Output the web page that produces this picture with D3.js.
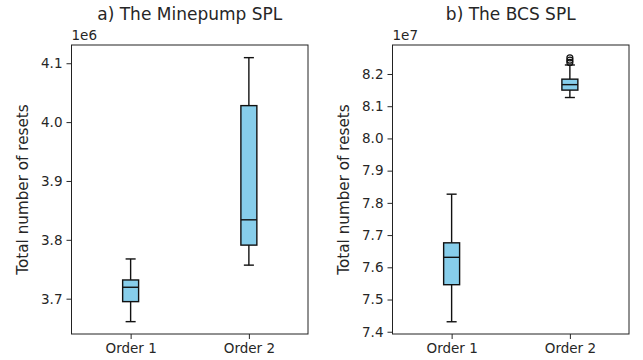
<!DOCTYPE html>
<html>
<head>
<meta charset="utf-8">
<script src="https://cdn.jsdelivr.net/npm/d3@7"></script>
<style>
  body { margin: 0; background: #fff; }
  svg { display: block; }
  text { font-family: "DejaVu Sans", sans-serif; fill: #262626; }
</style>
</head>
<body>
<script>
// box stats
let categories = ['Order 1', 'Order 2']

let minepumpLow = [3.661e6, 3.757e6]
let minepumpQ1 = [3.695e6, 3.791e6]
let minepumpMed = [3.7194e6, 3.834e6]
let minepumpQ3 = [3.7318e6, 4.028e6]
let minepumpHigh = [3.7675e6, 4.1095e6]
let minepumpOutliers = [[], []]
let minepumpTicks = [3.7e6, 3.8e6, 3.9e6, 4.0e6, 4.1e6]

let bcsLow = [7.431e7, 8.127e7]
let bcsQ1 = [7.546e7, 8.150e7]
let bcsMed = [7.631e7, 8.167e7]
let bcsQ3 = [7.676e7, 8.184e7]
let bcsHigh = [7.827e7, 8.228e7]
let bcsOutliers = [[], [8.236e7, 8.243e7, 8.250e7]]
let bcsTicks = [7.4e7, 7.5e7, 7.6e7, 7.7e7, 7.8e7, 7.9e7, 8.0e7, 8.1e7, 8.2e7]

let svgWidth = 643, svgHeight = 360

let svg = d3.select('body').append('svg')
    .attr('width', svgWidth)
    .attr('height', svgHeight)

function drawPanel(opts) {
    let w = opts.right - opts.left
    let h = opts.bottom - opts.top

    let g = svg.append('g')
        .attr('transform', 'translate(' + opts.left + ',' + opts.top + ')')

    let xScale = d3.scaleLinear().domain([0.5, 2.5]).range([0, w])
    let yScale = d3.scaleLinear().domain(opts.yDomain).range([h, 0])

    let yAxis = d3.axisLeft(yScale)
        .tickValues(opts.ticks)
        .tickSize(5)
        .tickPadding(4)
        .tickFormat(d => (d / opts.scale).toFixed(1))
    let xAxis = d3.axisBottom(xScale)
        .tickValues([1, 2])
        .tickSize(5)
        .tickPadding(4)
        .tickFormat((d, i) => categories[i])

    let ya = g.append('g').call(yAxis)
    let xa = g.append('g').attr('transform', 'translate(0,' + h + ')').call(xAxis)
    for (let a of [ya, xa]) {
        a.select('.domain').remove()
        a.selectAll('text').style('font-size', '13.5px').attr('fill', '#262626')
        a.selectAll('line').attr('stroke', '#262626').attr('stroke-width', 1)
    }

    let boxW = 0.135, capW = 0.085
    categories.forEach(function (c, i) {
        let cx = xScale(i + 1)
        let bw = xScale(1 + boxW) - xScale(1)
        let cw = xScale(1 + capW) - xScale(1)
        let bg = g.append('g')
        // whiskers
        bg.append('line').attr('x1', cx).attr('x2', cx)
            .attr('y1', yScale(opts.q3[i])).attr('y2', yScale(opts.high[i]))
        bg.append('line').attr('x1', cx).attr('x2', cx)
            .attr('y1', yScale(opts.q1[i])).attr('y2', yScale(opts.low[i]))
        bg.append('line').attr('x1', cx - cw / 2).attr('x2', cx + cw / 2)
            .attr('y1', yScale(opts.high[i])).attr('y2', yScale(opts.high[i]))
        bg.append('line').attr('x1', cx - cw / 2).attr('x2', cx + cw / 2)
            .attr('y1', yScale(opts.low[i])).attr('y2', yScale(opts.low[i]))
        bg.append('rect')
            .attr('x', cx - bw / 2)
            .attr('y', yScale(opts.q3[i]))
            .attr('width', bw)
            .attr('height', yScale(opts.q1[i]) - yScale(opts.q3[i]))
            .attr('fill', '#87ceeb')
        bg.append('line').attr('x1', cx - bw / 2).attr('x2', cx + bw / 2)
            .attr('y1', yScale(opts.med[i])).attr('y2', yScale(opts.med[i]))
        bg.selectAll('line').attr('stroke', '#111').attr('stroke-width', 1.4)
        bg.select('rect').attr('stroke', '#111').attr('stroke-width', 1.4)
        bg.selectAll('circle.out')
            .data(opts.outliers[i])
            .enter().append('circle')
            .attr('class', 'out')
            .attr('cx', cx)
            .attr('cy', d => yScale(d))
            .attr('r', 3)
            .attr('fill', 'none')
            .attr('stroke', '#111')
            .attr('stroke-width', 1.2)
    })

    // frame
    g.append('rect').attr('width', w).attr('height', h)
        .attr('fill', 'none').attr('stroke', '#222').attr('stroke-width', 1)

    g.append('text')
        .attr('x', w / 2).attr('y', -25)
        .attr('text-anchor', 'middle')
        .style('font-size', '17px')
        .text(opts.title)

    g.append('text')
        .attr('x', 0).attr('y', -5)
        .style('font-size', '13.5px')
        .text(opts.offset)

    g.append('text')
        .attr('transform', 'translate(' + opts.labelX + ',' + (h / 2) + ') rotate(-90)')
        .attr('text-anchor', 'middle')
        .style('font-size', '15.2px')
        .text('Total number of resets')
}

drawPanel({
    left: 71.5, right: 308, top: 45, bottom: 334,
    yDomain: [3.640e6, 4.131e6], ticks: minepumpTicks, scale: 1e6,
    low: minepumpLow, q1: minepumpQ1, med: minepumpMed, q3: minepumpQ3, high: minepumpHigh,
    outliers: minepumpOutliers,
    title: 'a) The Minepump SPL', offset: '1e6', labelX: -43.5
})

drawPanel({
    left: 392.5, right: 629, top: 45, bottom: 334,
    yDomain: [7.393e7, 8.290e7], ticks: bcsTicks, scale: 1e7,
    low: bcsLow, q1: bcsQ1, med: bcsMed, q3: bcsQ3, high: bcsHigh,
    outliers: bcsOutliers,
    title: 'b) The BCS SPL', offset: '1e7', labelX: -43.5
})
</script>
</body>
</html>
